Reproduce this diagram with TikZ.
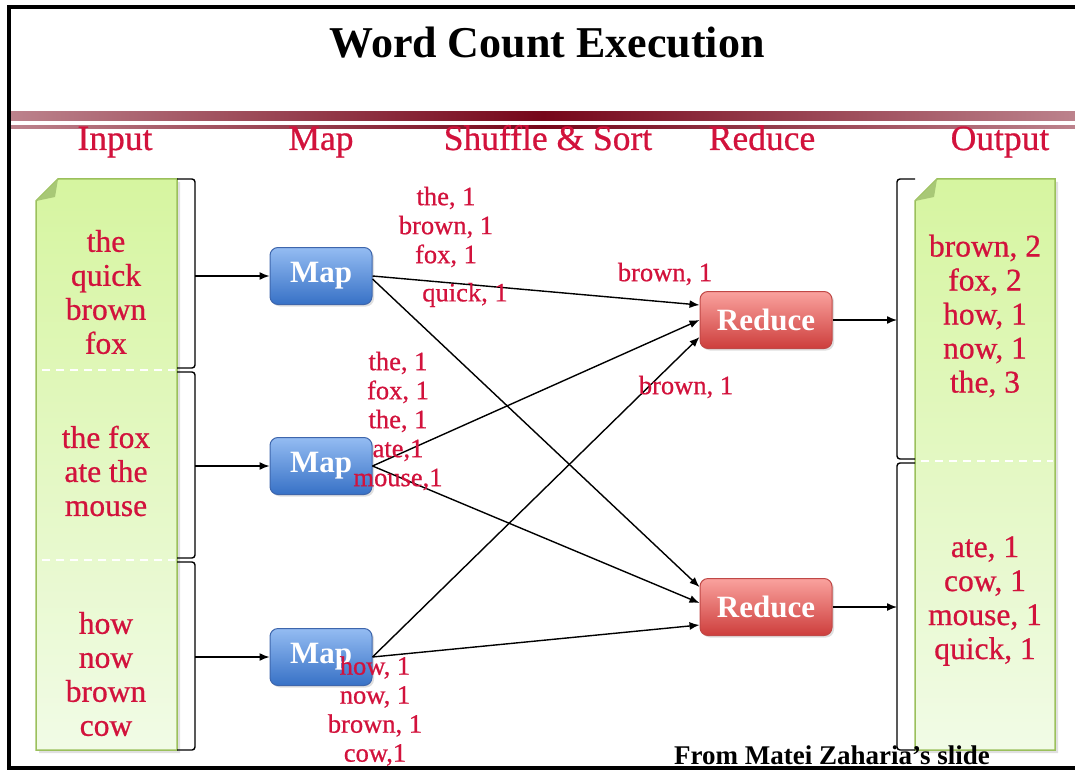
\documentclass[tikz,border=0pt]{standalone}
\usepackage{fontspec}
\setmainfont{Liberation Serif}
\newfontfamily\redfont[FakeBold=0.7]{Liberation Serif}
\usetikzlibrary{arrows.meta,shadows}

\definecolor{crim}{RGB}{210,18,60}
\definecolor{docTop}{RGB}{214,245,160}
\definecolor{docBot}{RGB}{241,251,230}
\definecolor{docEdge}{RGB}{155,192,92}
\definecolor{docFold}{RGB}{168,200,118}
\definecolor{mapTop}{RGB}{148,188,242}
\definecolor{mapBot}{RGB}{55,113,198}
\definecolor{mapEdge}{RGB}{62,102,172}
\definecolor{redTop}{RGB}{250,162,158}
\definecolor{redBot}{RGB}{205,62,60}
\definecolor{redEdge}{RGB}{192,72,70}
\definecolor{barEnd}{RGB}{188,130,140}
\definecolor{barMid}{RGB}{118,6,26}

\tikzset{
  arr/.style={line width=1.4pt, -{Latex[length=10pt,width=8pt]}},
  brace/.style={line width=1.4pt, rounded corners=3pt},
  doc/.style={draw=docEdge, line width=1.5pt, top color=docTop, bottom color=docBot},
  sep/.style={white, line width=1.4pt, dash pattern=on 8pt off 6pt},
  hdr/.style={text=crim, anchor=base, inner sep=0, font=\redfont\fontsize{35.5}{36}\selectfont},
  boxtxt/.style={text=crim, align=center, inner sep=0, font=\redfont\fontsize{31.5}{34}\selectfont},
  lbl/.style={text=crim, align=center, inner sep=0, font=\redfont\fontsize{26.5}{29}\selectfont},
  mapbox/.style={rounded corners=8pt, minimum width=102pt, minimum height=57pt,
    top color=mapTop, bottom color=mapBot, draw=mapEdge, line width=1pt,
    text=white, inner sep=0, font=\fontsize{31}{31}\selectfont\bfseries,
    drop shadow={opacity=0.25, shadow xshift=2pt, shadow yshift=-2pt}},
  redbox/.style={mapbox, minimum width=132pt, top color=redTop, bottom color=redBot, draw=redEdge},
}

\begin{document}
\begin{tikzpicture}[x=1pt, y=-1pt]
\useasboundingbox (0,0) rectangle (1075,770);

% frame
\fill[black] (7,5) rectangle (1075,9);
\fill[black] (7,5) rectangle (11,770);
\fill[black] (7,766) rectangle (1075,770);

% title and rule bars
\node[font=\fontsize{44}{44}\selectfont\bfseries, anchor=base, inner sep=0] (title) at (547,58) {Word Count Execution};
\shade[left color=barEnd, right color=barEnd, middle color=barMid] (11,112) rectangle (1075,121);
\shade[left color=barEnd, right color=barEnd, middle color=barMid] (11,126) rectangle (1075,129);

% column headers
\node[hdr] (hIn)  at (115,150) {Input};
\node[hdr] (hMap) at (321,150) {Map};
\node[hdr] (hSh)  at (548,150) {Shuffle \& Sort};
\node[hdr] (hRed) at (762,150) {Reduce};
\node[hdr] (hOut) at (1000,150) {Output};

% input document
\fill[black, opacity=0.12] (60,182) -- (180,182) -- (180,753) -- (39,753) -- (39,204) -- cycle;
\path[doc] (58,179) -- (177,179) -- (177,750) -- (36,750) -- (36,201) -- cycle;
\fill[docFold] (36,201) -- (58,179) -- (55,197) -- cycle;
\draw[sep] (42,370) -- (175,370);
\draw[sep] (42,560) -- (175,560);

% output document
\fill[black, opacity=0.12] (940,182) -- (1058,182) -- (1058,753) -- (918,753) -- (918,204) -- cycle;
\path[doc] (937,179) -- (1055,179) -- (1055,750) -- (915,750) -- (915,201) -- cycle;
\fill[docFold] (915,201) -- (937,179) -- (934,197) -- cycle;
\draw[sep] (921,461) -- (1053,461);

% brackets on the input splits
\draw[brace] (177,179) -- (195,179) -- (195,368) -- (177,368);
\draw[brace] (177,372) -- (195,372) -- (195,558) -- (177,558);
\draw[brace] (177,562) -- (195,562) -- (195,750) -- (177,750);
\coordinate (in1) at (195,276);
\coordinate (in2) at (195,466);
\coordinate (in3) at (195,657);

% brackets on the output parts
\draw[brace] (915,179) -- (897,179) -- (897,459) -- (915,459);
\draw[brace] (915,463) -- (897,463) -- (897,750) -- (915,750);
\coordinate (out1) at (897,320);
\coordinate (out2) at (897,607);

% map and reduce tasks
\node[mapbox] (map1) at (321,276) {Map};
\node[mapbox] (map2) at (321,466) {Map};
\node[mapbox] (map3) at (321,657) {Map};
\node[redbox] (red1) at (766,320) {Reduce};
\node[redbox] (red2) at (766,607) {Reduce};

% splits into mappers
\draw[arr] (in1) -- (map1.west);
\draw[arr] (in2) -- (map2.west);
\draw[arr] (in3) -- (map3.west);

% shuffle
\draw[arr] (map1.east) -- ([yshift=15pt]red1.west);
\draw[arr] ([yshift=-3pt]map1.east) -- ([yshift=20pt]red2.west);
\draw[arr] (map2.east) -- (red1.west);
\draw[arr] (map2.east) -- ([yshift=4pt]red2.west);
\draw[arr] (map3.east) -- ([yshift=-17pt]red1.west);
\draw[arr] (map3.east) -- ([yshift=-18pt]red2.west);

% reducers to output
\draw[arr] (red1.east) -- (out1);
\draw[arr] (red2.east) -- (out2);

% document contents
\node[boxtxt] (t1) at (106,292) {the\\quick\\brown\\fox};
\node[boxtxt] (t2) at (106,471) {the fox\\ate the\\mouse};
\node[boxtxt] (t3) at (106,674) {how\\now\\brown\\cow};
\node[boxtxt] (r1) at (985,316) {brown, 2\\fox, 2\\how, 1\\now, 1\\the, 3};
\node[boxtxt] (r2) at (985,601) {ate, 1\\cow, 1\\mouse, 1\\quick, 1};

% intermediate pairs
\node[lbl] (k1) at (446,227) {the, 1\\brown, 1\\fox, 1};
\node[lbl] (k2) at (465,295) {quick, 1};
\node[lbl] (k3) at (665,274) {brown, 1};
\node[lbl] (k4) at (398,421) {the, 1\\fox, 1\\the, 1\\ate,1\\mouse,1};
\node[lbl] (k5) at (686,387) {brown, 1};
\node[lbl] (k6) at (375,711) {how, 1\\now, 1\\brown, 1\\cow,1};

% credit
\node[font=\fontsize{27}{27}\selectfont\bfseries, anchor=base, inner sep=0] (credit) at (832,764) {From Matei Zaharia’s slide};
\end{tikzpicture}
\end{document}
